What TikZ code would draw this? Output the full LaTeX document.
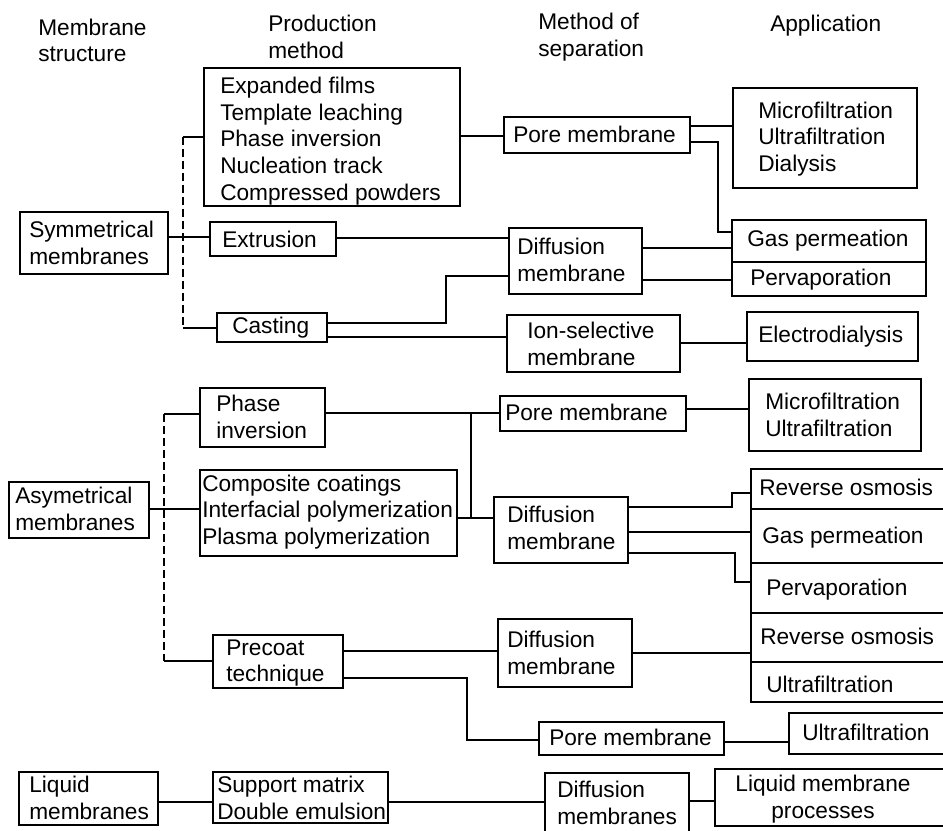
\documentclass[tikz,border=0pt]{standalone}
\usepackage{fontspec}
\setmainfont{Liberation Sans}
\usetikzlibrary{fit}
\tikzset{
  bx/.style={draw, line width=1.65pt, inner sep=0pt, rectangle},
  tx/.style={inner sep=0pt, anchor=west, align=left, font=\fontsize{17}{20}\selectfont},
  cn/.style={line width=1.6pt},
  dsh/.style={line width=1.6pt, dash pattern=on 6pt off 3pt},
}
% name, x1, y1, x2, y2, text x, text y, text
\newcommand\bxt[8]{%
  \node[bx, fit={(#2,#3) (#4,#5)}] (#1) {};
  \node[tx] (#1-t) at (#6,#7) {#8};}
\begin{document}
\begin{tikzpicture}[x=0.75pt,y=-0.75pt]
\path[use as bounding box] (0,0) rectangle (943,831);
\clip (0,0) rectangle (943,831);

% headers
\node[tx] (h1) at (38,40.5) {Membrane\\structure};
\node[tx] (h2) at (268,37) {Production\\method};
\node[tx] (h3) at (538,37) {Method of\\separation};
\node[tx, anchor=base west] (h4) at (770,32) {Application};

% section 1
\bxt{exp}{204}{68}{460}{206}{220}{141}{Expanded films\\Template leaching\\Phase inversion\\Nucleation track\\Compressed powders}
\bxt{sym}{20}{212}{168}{274}{29}{243}{Symmetrical\\membranes}
\bxt{extr}{210}{222}{336}{256}{222}{239}{Extrusion}
\bxt{cast}{217}{313}{327}{342}{232}{328}{Casting}
\bxt{pore1}{504}{117}{690}{153}{513}{134}{Pore membrane}
\bxt{diff1}{509}{228}{642}{294}{517}{260}{Diffusion\\membrane}
\bxt{ion}{507}{315}{680}{372}{527}{344}{Ion-selective\\membrane}
\bxt{mf1}{733}{88}{917}{188}{758}{139}{Microfiltration\\Ultrafiltration\\Dialysis}
\bxt{gas1}{732}{220}{926}{262}{747}{241}{Gas permeation}
\bxt{perv1}{732}{262}{926}{296}{750}{280}{Pervaporation}
\bxt{electro}{747}{312}{918}{361}{758}{337}{Electrodialysis}

% section 2
\bxt{phinv}{200}{388}{325}{447}{216}{417}{Phase\\inversion}
\bxt{asym}{9}{482}{149}{538}{15}{509}{Asymetrical\\membranes}
\bxt{comp}{200}{470}{457}{556}{202}{512}{Composite coatings\\Interfacial polymerization\\Plasma polymerization}
\bxt{pore2}{500}{396}{686}{431}{505}{412}{Pore membrane}
\bxt{mf2}{749}{379}{921}{451}{765}{415}{Microfiltration\\Ultrafiltration}
\bxt{diff2}{494}{497}{628}{563}{507}{528}{Diffusion\\membrane}
\bxt{ro1}{751}{469}{948}{509}{759}{487}{Reverse osmosis}
\bxt{gas2}{751}{509}{948}{563}{762}{538}{Gas permeation}
\bxt{perv2}{751}{563}{948}{613}{766}{590}{Pervaporation}
\bxt{ro2}{751}{613}{948}{662}{760}{636}{Reverse osmosis}
\bxt{uf1}{751}{662}{948}{702}{766}{684}{Ultrafiltration}
\bxt{precoat}{213}{635}{343}{688}{226}{663}{Precoat\\technique}
\bxt{diff3}{498}{619}{632}{687}{507}{653}{Diffusion\\membrane}
\bxt{pore3}{539}{722}{724}{755}{549}{737}{Pore membrane}
\bxt{uf2}{789}{713}{948}{754}{802}{732}{Ultrafiltration}

% section 3
\bxt{liq}{19}{772}{158}{825}{29}{798}{Liquid\\membranes}
\bxt{supp}{213}{772}{388}{823}{217}{798}{Support matrix\\Double emulsion}
\bxt{diffm}{545}{773}{689}{840}{557}{803}{Diffusion\\membranes}
\node[bx, fit={(715,769) (948,826)}] (lmp) {};
\node[tx, anchor=center, align=center] (lmp-t) at (823,799) {Liquid membrane\\processes};

% connectors, section 1
\coordinate (d1t) at (183,137);
\coordinate (d1b) at (183,328);
\draw[cn] (exp.west |- d1t) -- (d1t);
\draw[dsh] (d1t) -- (d1b);
\draw[cn] (d1b) -- (cast.west |- d1b);
\draw[cn] (sym.east |- 0,237) -- (extr.west |- 0,237);
\draw[cn] (extr.east |- 0,238) -- (diff1.west |- 0,238);
\draw[cn] (cast.east |- 0,323) -| (446,276) -- (diff1.west |- 0,276);
\draw[cn] (cast.east |- 0,337) -- (ion.west |- 0,337);
\draw[cn] (exp.east |- 0,136) -- (pore1.west |- 0,136);
\draw[cn] (pore1.east |- 0,126) -- (mf1.west |- 0,126);
\draw[cn] (pore1.east |- 0,142) -| (718,232) -- (gas1.west |- 0,232);
\draw[cn] (diff1.east |- 0,248) -- (gas1.west |- 0,248);
\draw[cn] (diff1.east |- 0,280) -- (perv1.west |- 0,280);
\draw[cn] (ion.east |- 0,343) -- (electro.west |- 0,343);

% connectors, section 2
\coordinate (d2t) at (164,414);
\coordinate (d2b) at (164,661);
\draw[cn] (phinv.west |- d2t) -- (d2t);
\draw[dsh] (d2t) -- (d2b);
\draw[cn] (d2b) -- (precoat.west |- d2b);
\draw[cn] (asym.east |- 0,509) -- (comp.west |- 0,509);
\coordinate (j1) at (471,413);
\coordinate (j2) at (471,518);
\draw[cn] (phinv.east |- j1) -- (pore2.west |- j1);
\draw[cn] (comp.east |- j2) -- (diff2.west |- j2);
\draw[cn] (j1) -- (j2);
\draw[cn] (pore2.east |- 0,409) -- (mf2.west |- 0,409);
\draw[cn] (diff2.east |- 0,507) -| (732,493) -- (ro1.west |- 0,493);
\draw[cn] (diff2.east |- 0,532) -- (gas2.west |- 0,532);
\draw[cn] (diff2.east |- 0,553) -| (735,582) -- (perv2.west |- 0,582);
\draw[cn] (precoat.east |- 0,651) -- (diff3.west |- 0,651);
\draw[cn] (precoat.east |- 0,678) -| (467,740) -- (pore3.west |- 0,740);
\draw[cn] (diff3.east |- 0,653) -- (ro2.west |- 0,653);
\draw[cn] (pore3.east |- 0,742) -- (uf2.west |- 0,742);

% connectors, section 3
\draw[cn] (liq.east |- 0,802) -- (supp.west |- 0,802);
\draw[cn] (supp.east |- 0,802) -- (diffm.west |- 0,802);
\draw[cn] (diffm.east |- 0,801) -- (lmp.west |- 0,801);
\end{tikzpicture}
\end{document}
